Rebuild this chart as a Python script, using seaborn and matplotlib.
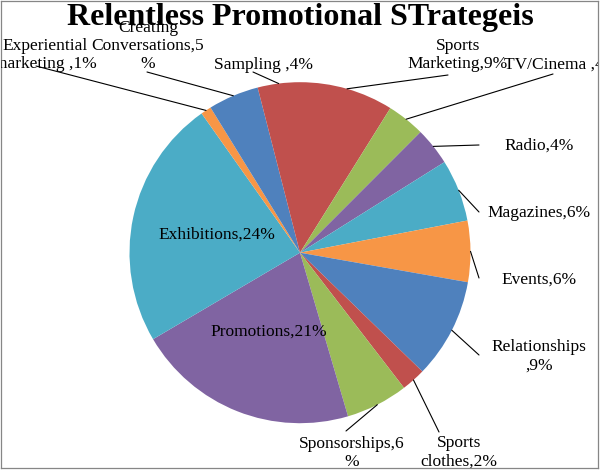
import numpy as np
import matplotlib.pyplot as plt
import seaborn as sns

# slices, clockwise from 12 o'clock
categories = ["Sports Marketing", "TV/Cinema", "Radio", "Magazines", "Events",
              "Relationships", "Sports clothes", "Sponsorships", "Promotions",
              "Exhibitions", "Experiential marketing", "Creating Conversations", "Sampling"]
shares = [8.9, 3.6, 3.6, 5.9, 5.8, 9.5, 2.3, 5.9, 21.1, 23.7, 1.0, 4.8, 4.0]
label_texts = ["Sports\nMarketing,9%", "TV/Cinema ,4%", "Radio,4%", "Magazines,6%", "Events,6%",
               "Relationships\n,9%", "Sports\nclothes,2%", "Sponsorships,6\n%", "Promotions,21%",
               "Exhibitions,24%", "Experiential\nmarketing ,1%", "Creating\nConversations,5\n%",
               "Sampling ,4%"]
title = "Relentless Promotional STrategeis"

# excel 2007 style palette
blue, red, green, purple, cyan, orange = "#4F81BD", "#C0504D", "#9BBB59", "#8064A2", "#4BACC6", "#F79646"
slice_colors = [red, green, purple, cyan, orange, blue, red, green, purple, cyan, orange, blue, red]

# layout in pixels: label centre (x, y, ha) and leader start, None = label inside the slice
W, H = 600, 470
label_pos = [(458, 55, "center"), (504, 65, "left"), (539, 146, "center"), (539, 213, "center"),
             (539, 280, "center"), (539, 356, "center"), (459, 452, "center"), (352, 453, "center"),
             None, None, (45, 55, "center"), (148, 46, "center"), (263, 65, "center")]
leader_start = [(448, 75), (553, 74), (479, 145), (479, 212), (479, 278), (479, 355),
                (439, 432), (346, 431), None, None, (36, 66), (147, 72), (253, 72)]


def fig_xy(px, py):
    return px / W, 1 - py / H


sns.set_theme(style="white")
plt.rcParams['font.family'] = ['Liberation Serif', 'DejaVu Serif']
plt.rcParams['text.color'] = 'black'

fig = plt.figure(figsize=(6, 4.7), dpi=100)

# chart area with grey border, clips the outer labels
bg = fig.add_axes([1 / W, 2 / H, 597 / W, 467 / H])
bg.set_xticks([])
bg.set_yticks([])
for sp in bg.spines.values():
    sp.set_color("#868686")
    sp.set_linewidth(0.9)

cx, cy, r = 300, 252.7, 170.5
ax = fig.add_axes([(cx - r) / W, (H - cy - r) / H, 2 * r / W, 2 * r / H])
wedges, _ = ax.pie(shares, colors=slice_colors, startangle=90, counterclock=False,
                   wedgeprops=dict(linewidth=0))
ax.set_xlim(-1, 1)
ax.set_ylim(-1, 1)
ax.axis("off")

for i, w in enumerate(wedges):
    mid = np.deg2rad((w.theta1 + w.theta2) / 2)
    ex, ey = np.cos(mid), np.sin(mid)
    if label_pos[i] is None:
        ax.text(0.5 * ex, 0.5 * ey, label_texts[i], ha="center", va="center", fontsize=12.5)
        continue
    x, y, ha = label_pos[i]
    bg.text(*fig_xy(x, y), label_texts[i], transform=fig.transFigure, ha=ha, va="center",
            multialignment="center", fontsize=12.5, clip_on=True)
    ax.annotate("", xy=(ex, ey), xycoords="data", xytext=fig_xy(*leader_start[i]),
                textcoords="figure fraction", annotation_clip=False,
                arrowprops=dict(arrowstyle="-", color="black", lw=0.8, shrinkA=0, shrinkB=0))

fig.text(0.5, fig_xy(0, 18)[1], title, ha="center", va="center", fontsize=23,
         fontweight="bold", zorder=10)

fig.savefig("out.png", dpi=100)
